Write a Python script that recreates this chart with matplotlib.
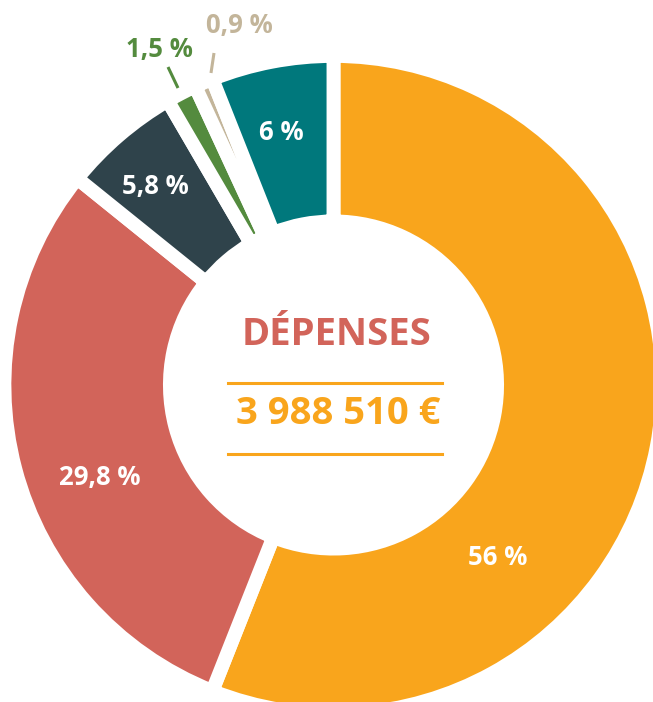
import numpy as np
import matplotlib
matplotlib.use("Agg")
import matplotlib.pyplot as plt

# Données
categories = ["A", "B", "C", "D", "E", "F"]
valeurs = [56, 29.8, 5.8, 1.5, 0.9, 6]
etiquettes = ["56 %", "29,8 %", "5,8 %", "1,5 %", "0,9 %", "6 %"]
couleurs = ["#F9A51C", "#D2645A", "#2F434B", "#548B3E", "#C3B59A", "#00787C"]
titre = "DÉPENSES"
total = "3 988 510 €"

plt.rcParams['font.family'] = ['Open Sans', 'DejaVu Sans']

fig = plt.figure(figsize=(6.53, 7.02), dpi=100)
ax = fig.add_axes([0, 0, 1, 1])

# le trait blanc mange ~7 px de chaque côté, on compense le rayon
wedges, _ = ax.pie(valeurs, colors=couleurs, startangle=90, counterclock=False,
                   radius=1.022, wedgeprops=dict(width=0.514, edgecolor="white", linewidth=10))

# étiquettes : angle (deg) et rayon, choisis à l'oeil
pos_interieur = {0: (-46.4, 0.74), 1: (-158.5, 0.78), 2: (131.9, 0.83), 5: (101.8, 0.80)}
for i, (ang, r) in pos_interieur.items():
    a = np.deg2rad(ang)
    ax.text(r * np.cos(a), r * np.sin(a), etiquettes[i], color="white",
            fontsize=18.5, fontweight="bold", ha="center", va="center")

# petites parts : étiquette à l'extérieur avec un trait
px = 322.0
cx, cy = 333.5, 385.0
def pt(x, y):
    return ((x - cx) / px, (cy - y) / px)

ext = {3: ((159, 50), (168, 67), (178, 88)), 4: ((239, 25), (214, 53), (211, 73))}
for i, (lab, p1, p2) in ext.items():
    lx, ly = pt(*lab)
    ax.text(lx, ly, etiquettes[i], color=couleurs[i], fontsize=18.5,
            fontweight="bold", ha="center", va="center")
    x1, y1 = pt(*p1)
    x2, y2 = pt(*p2)
    ax.plot([x1, x2], [y1, y2], color=couleurs[i], lw=2.2, solid_capstyle="butt")

# texte central
ax.text(*pt(336, 335), titre, color="#D2645A", fontsize=27.5, fontweight="bold",
        ha="center", va="center")
ax.text(*pt(338, 414), total, color="#F9A51C", fontsize=27.5, fontweight="bold",
        ha="center", va="center")
for yl in (383, 454):
    xa, ya = pt(228, yl)
    xb, _ = pt(442, yl)
    ax.plot([xa, xb], [ya, ya], color="#F9A51C", lw=2.2)

ax.set_xlim(-cx / px, (653 - cx) / px)
ax.set_ylim(-(702 - cy) / px, cy / px)
ax.set_aspect("equal", adjustable="box")
ax.axis("off")

fig.savefig("out.png", dpi=100, facecolor="white")
